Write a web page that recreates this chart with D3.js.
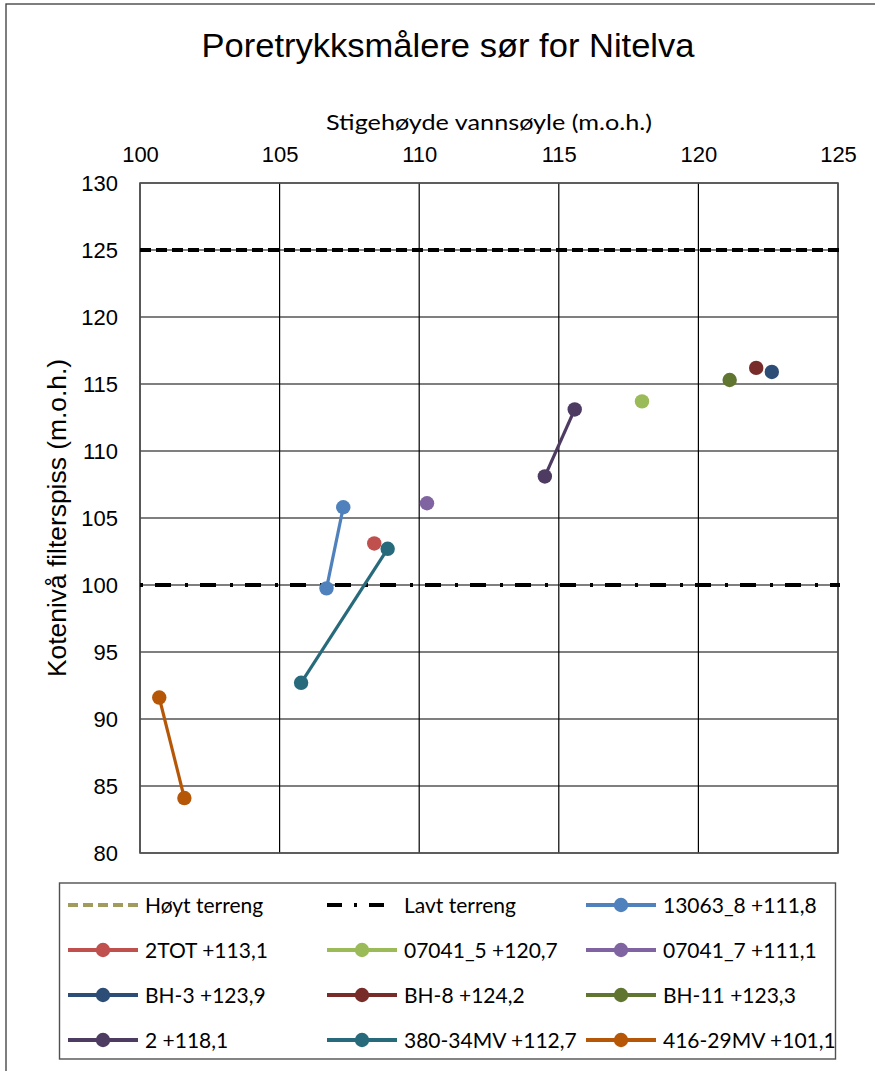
<!DOCTYPE html>
<html>
<head>
<meta charset="utf-8">
<script src="https://cdn.jsdelivr.net/npm/d3@7"></script>
<style>
  html, body { margin: 0; padding: 0; background: #fff; }
  svg { display: block; }
</style>
</head>
<body>
<svg id="chart" width="875" height="1071"></svg>
<script>
// ---------- data ----------
const chartTitle = "Poretrykksmålere sør for Nitelva";
const xAxisTitle = "Stigehøyde vannsøyle (m.o.h.)";
const yAxisTitle = "Kotenivå filterspiss (m.o.h.)";

const xTicks = [100, 105, 110, 115, 120, 125];
const yTicks = [80, 85, 90, 95, 100, 105, 110, 115, 120, 125, 130];

const terrainNames = ["Høyt terreng", "Lavt terreng"];
const terrainLevels = [125, 100];

const seriesNames = ["13063_8 +111,8", "2TOT +113,1", "07041_5 +120,7", "07041_7 +111,1",
  "BH-3 +123,9", "BH-8 +124,2", "BH-11 +123,3", "2 +118,1", "380-34MV +112,7", "416-29MV +101,1"];
const seriesX = [[106.68, 107.28], [108.39], [117.98], [110.28], [122.63], [122.07], [121.12],
  [114.5, 115.57], [105.77, 108.87], [100.69, 101.59]];
const seriesY = [[99.75, 105.8], [103.1], [113.7], [106.1], [115.9], [116.2], [115.3],
  [108.1, 113.1], [92.7, 102.7], [91.6, 84.1]];

const seriesColors = ["#4F81BD", "#C0504D", "#9BBB59", "#8064A2", "#2C4D75", "#772C2A",
  "#5F7530", "#4D3B62", "#276A7C", "#B65708"];
const highLegendColor = "#A19B5E";

// ---------- layout ----------
const svg = d3.select("#chart");
const plot = { left: 140, right: 838, top: 183, bottom: 853 };
const x = d3.scaleLinear().domain([100, 125]).range([plot.left, plot.right]);
const y = d3.scaleLinear().domain([80, 130]).range([plot.bottom, plot.top]);

const arial = "'Liberation Sans', Arial, sans-serif";
const calib = "Lato, 'Open Sans', sans-serif";

// outer frame
svg.append("rect").attr("x", 6).attr("y", 4).attr("width", 900).attr("height", 1100)
  .attr("fill", "#fff").attr("stroke", "#3a3a3a").attr("stroke-width", 1.3);

// title
svg.append("text").attr("x", 448).attr("y", 57).attr("text-anchor", "middle")
  .attr("font-family", arial).attr("font-size", 33).attr("fill", "#000")
  .attr("textLength", 493).attr("lengthAdjust", "spacingAndGlyphs")
  .text(chartTitle);

// x axis title (top)
svg.append("text").attr("x", 489).attr("y", 130).attr("text-anchor", "middle")
  .attr("font-family", calib).attr("font-size", 22).attr("fill", "#000")
  .attr("textLength", 326).attr("lengthAdjust", "spacingAndGlyphs")
  .text(xAxisTitle);

// y axis title
svg.append("text").attr("transform", "translate(66,518) rotate(-90)")
  .attr("text-anchor", "middle")
  .attr("font-family", arial).attr("font-size", 25).attr("fill", "#000")
  .attr("textLength", 318).attr("lengthAdjust", "spacingAndGlyphs")
  .text(yAxisTitle);

// gridlines
const grid = svg.append("g");
grid.selectAll("line.v").data(xTicks).join("line").attr("class", "v")
  .attr("x1", d => x(d)).attr("x2", d => x(d))
  .attr("y1", plot.top).attr("y2", plot.bottom)
  .attr("stroke", "#000").attr("stroke-width", 1.2);
grid.selectAll("line.h").data(yTicks).join("line").attr("class", "h")
  .attr("x1", plot.left).attr("x2", plot.right)
  .attr("y1", d => y(d)).attr("y2", d => y(d))
  .attr("stroke", "#000").attr("stroke-width", 1.2);

// plot border
svg.append("rect").attr("x", plot.left).attr("y", plot.top)
  .attr("width", plot.right - plot.left).attr("height", plot.bottom - plot.top)
  .attr("fill", "none").attr("stroke", "#555").attr("stroke-width", 1.6);

// axes
const xAxis = svg.append("g").attr("transform", `translate(0,${plot.top})`)
  .call(d3.axisTop(x).tickValues(xTicks).tickSize(0).tickPadding(21).tickFormat(d3.format("d")));
const yAxis = svg.append("g").attr("transform", `translate(${plot.left},0)`)
  .call(d3.axisLeft(y).tickValues(yTicks).tickSize(0).tickPadding(22).tickFormat(d3.format("d")));
[xAxis, yAxis].forEach(a => {
  a.select(".domain").remove();
  a.selectAll("text").attr("font-family", arial).attr("font-size", 22).attr("fill", "#000");
});

// terrain lines
const terrainStyles = [
  { dash: "11,5", width: 4 },
  { dash: "3,12,16,14", width: 4 }
];
terrainLevels.forEach((lvl, i) => {
  svg.append("line")
    .attr("x1", x(100)).attr("x2", x(125) + 2)
    .attr("y1", y(lvl)).attr("y2", y(lvl))
    .attr("stroke", "#000").attr("stroke-width", terrainStyles[i].width)
    .attr("stroke-dasharray", terrainStyles[i].dash);
});

// series
const lineGen = d3.line().x(d => x(d[0])).y(d => y(d[1]));
seriesNames.forEach((name, i) => {
  const pts = seriesX[i].map((v, j) => [v, seriesY[i][j]]);
  const g = svg.append("g");
  if (pts.length > 1) {
    g.append("path").attr("d", lineGen(pts)).attr("fill", "none")
      .attr("stroke", seriesColors[i]).attr("stroke-width", 3.2);
  }
  g.selectAll("circle").data(pts).join("circle")
    .attr("cx", d => x(d[0])).attr("cy", d => y(d[1])).attr("r", 7.2)
    .attr("fill", seriesColors[i]);
});

// legend
const legend = svg.append("g");
legend.append("rect").attr("x", 59.5).attr("y", 883).attr("width", 776).attr("height", 176)
  .attr("fill", "#fff").attr("stroke", "#505050").attr("stroke-width", 1.4);

const legendItems = [
  { name: terrainNames[0], type: "high" },
  { name: terrainNames[1], type: "low" },
  ...seriesNames.map((n, i) => ({ name: n, type: "series", color: seriesColors[i] }))
];
const colX = [68, 327, 586];
const rowY = [905, 950, 995, 1040];
legendItems.forEach((it, k) => {
  const cx = colX[k % 3], cy = rowY[Math.floor(k / 3)];
  const g = legend.append("g");
  if (it.type === "high") {
    g.append("line").attr("x1", cx).attr("x2", cx + 70).attr("y1", cy).attr("y2", cy)
      .attr("stroke", highLegendColor).attr("stroke-width", 4).attr("stroke-dasharray", "10,5");
  } else if (it.type === "low") {
    g.append("line").attr("x1", cx).attr("x2", cx + 70).attr("y1", cy).attr("y2", cy)
      .attr("stroke", "#000").attr("stroke-width", 4).attr("stroke-dasharray", "15,12,3,12,15");
  } else {
    g.append("line").attr("x1", cx).attr("x2", cx + 70).attr("y1", cy).attr("y2", cy)
      .attr("stroke", it.color).attr("stroke-width", 4);
    g.append("circle").attr("cx", cx + 35).attr("cy", cy).attr("r", 7.2).attr("fill", it.color);
  }
  g.append("text").attr("x", cx + 77).attr("y", cy + 7.5)
    .attr("font-family", calib).attr("font-size", 21).attr("fill", "#000")
    .text(it.name);
});
</script>
</body>
</html>
